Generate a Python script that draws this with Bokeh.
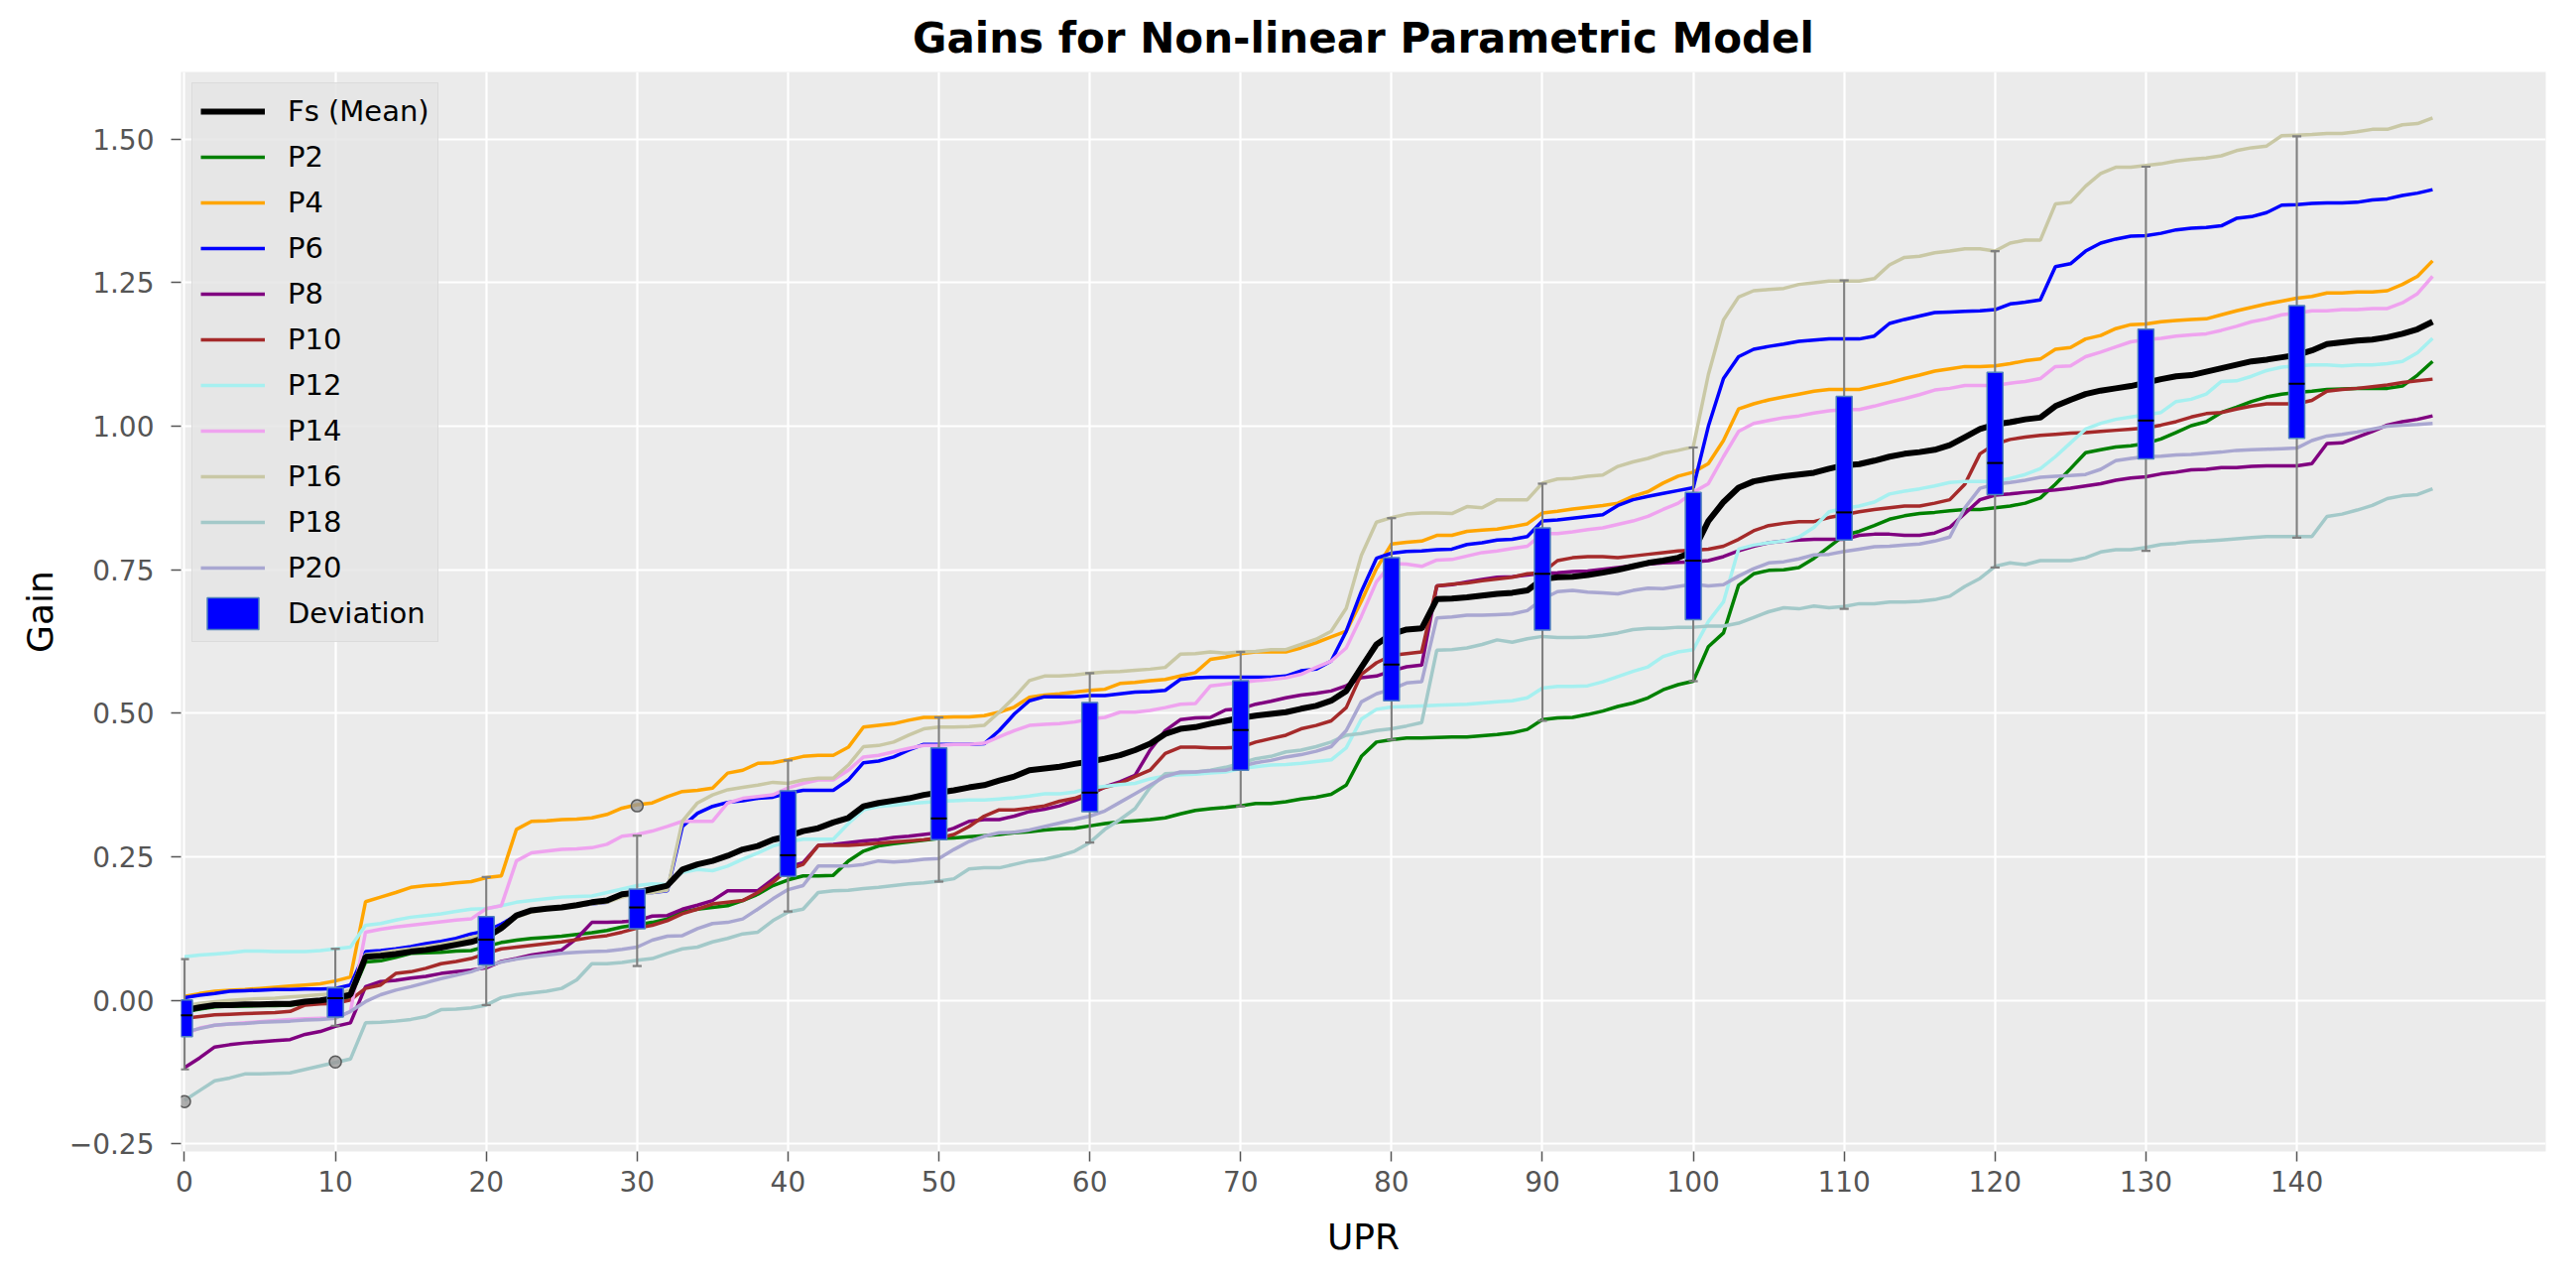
from bokeh.plotting import figure
from bokeh.models import (ColumnDataSource, Legend, LegendItem, FixedTicker, Range1d,
                          CustomJSTickFormatter)
from bokeh.embed import file_html
from bokeh.resources import INLINE

# ---------------- data ----------------
upr = list(range(150))

fs_mean = [
    -0.017, -0.012, -0.008, -0.008, -0.007, -0.007, -0.006, -0.006, -0.002, 0.000,
    0.004, 0.010, 0.076, 0.078, 0.081, 0.085, 0.088, 0.092, 0.097, 0.102,
    0.110, 0.126, 0.148, 0.157, 0.160, 0.162, 0.166, 0.171, 0.174, 0.185,
    0.188, 0.194, 0.200, 0.228, 0.237, 0.243, 0.252, 0.263, 0.269, 0.280,
    0.286, 0.295, 0.300, 0.310, 0.318, 0.338, 0.344, 0.348, 0.352, 0.358,
    0.362, 0.366, 0.371, 0.375, 0.383, 0.390, 0.401, 0.404, 0.407, 0.412,
    0.416, 0.421, 0.427, 0.436, 0.447, 0.464, 0.473, 0.476, 0.482, 0.487,
    0.492, 0.496, 0.499, 0.502, 0.508, 0.513, 0.522, 0.539, 0.580, 0.620,
    0.638, 0.646, 0.648, 0.699, 0.700, 0.702, 0.705, 0.708, 0.710, 0.714,
    0.734, 0.737, 0.738, 0.741, 0.745, 0.750, 0.756, 0.762, 0.766, 0.771,
    0.782, 0.835, 0.868, 0.893, 0.904, 0.909, 0.913, 0.916, 0.919, 0.926,
    0.932, 0.934, 0.940, 0.947, 0.952, 0.955, 0.959, 0.967, 0.981, 0.995,
    1.003, 1.007, 1.012, 1.015, 1.035, 1.046, 1.056, 1.062, 1.066, 1.070,
    1.076, 1.082, 1.087, 1.089, 1.095, 1.101, 1.107, 1.113, 1.116, 1.120,
    1.124, 1.132, 1.143, 1.146, 1.149, 1.151, 1.155, 1.161, 1.169, 1.182,
]

p2 = [
    -0.020, -0.015, -0.011, -0.010, -0.010, -0.009, -0.009, -0.008, -0.005, -0.003,
    0.001, 0.006, 0.067, 0.069, 0.075, 0.082, 0.083, 0.084, 0.086, 0.087,
    0.094, 0.101, 0.105, 0.108, 0.110, 0.112, 0.115, 0.118, 0.122, 0.128,
    0.132, 0.136, 0.142, 0.154, 0.159, 0.162, 0.165, 0.174, 0.185, 0.200,
    0.210, 0.217, 0.217, 0.218, 0.243, 0.260, 0.269, 0.273, 0.276, 0.279,
    0.282, 0.283, 0.285, 0.287, 0.289, 0.292, 0.294, 0.297, 0.299, 0.300,
    0.304, 0.308, 0.311, 0.313, 0.315, 0.318, 0.325, 0.331, 0.334, 0.336,
    0.339, 0.343, 0.343, 0.346, 0.351, 0.354, 0.359, 0.375, 0.425, 0.450,
    0.454, 0.457, 0.457, 0.458, 0.459, 0.459, 0.461, 0.463, 0.466, 0.472,
    0.489, 0.492, 0.493, 0.498, 0.504, 0.512, 0.518, 0.527, 0.541, 0.550,
    0.556, 0.616, 0.640, 0.723, 0.743, 0.749, 0.750, 0.754, 0.770, 0.790,
    0.810, 0.817, 0.827, 0.838, 0.844, 0.848, 0.850, 0.853, 0.855, 0.855,
    0.858, 0.861, 0.866, 0.875, 0.899, 0.926, 0.954, 0.959, 0.964, 0.966,
    0.970, 0.978, 0.989, 1.001, 1.008, 1.024, 1.033, 1.043, 1.051, 1.056,
    1.059, 1.061, 1.064, 1.065, 1.066, 1.066, 1.066, 1.070, 1.089, 1.113,
]

p4 = [
    0.007, 0.012, 0.016, 0.018, 0.019, 0.021, 0.023, 0.025, 0.027, 0.029,
    0.034, 0.041, 0.172, 0.180, 0.188, 0.197, 0.200, 0.202, 0.205, 0.207,
    0.214, 0.217, 0.298, 0.312, 0.313, 0.315, 0.316, 0.318, 0.324, 0.335,
    0.341, 0.344, 0.355, 0.364, 0.366, 0.370, 0.396, 0.401, 0.413, 0.414,
    0.419, 0.425, 0.427, 0.427, 0.441, 0.476, 0.479, 0.482, 0.488, 0.493,
    0.493, 0.494, 0.494, 0.496, 0.502, 0.511, 0.528, 0.532, 0.534, 0.537,
    0.540, 0.542, 0.552, 0.554, 0.557, 0.559, 0.565, 0.571, 0.594, 0.598,
    0.604, 0.607, 0.607, 0.607, 0.614, 0.623, 0.633, 0.643, 0.695, 0.752,
    0.795, 0.798, 0.800, 0.810, 0.810, 0.817, 0.819, 0.821, 0.825, 0.830,
    0.849, 0.852, 0.856, 0.859, 0.862, 0.866, 0.878, 0.886, 0.901, 0.913,
    0.920, 0.935, 0.975, 1.030, 1.039, 1.046, 1.051, 1.056, 1.061, 1.064,
    1.064, 1.064, 1.070, 1.076, 1.083, 1.089, 1.096, 1.100, 1.104, 1.104,
    1.105, 1.109, 1.114, 1.117, 1.134, 1.137, 1.152, 1.158, 1.170, 1.177,
    1.178, 1.182, 1.184, 1.186, 1.187, 1.194, 1.201, 1.207, 1.213, 1.218,
    1.223, 1.226, 1.232, 1.232, 1.234, 1.234, 1.236, 1.247, 1.261, 1.288,
]

p6 = [
    0.005, 0.009, 0.012, 0.016, 0.017, 0.018, 0.019, 0.019, 0.020, 0.020,
    0.021, 0.027, 0.085, 0.087, 0.090, 0.094, 0.099, 0.103, 0.108, 0.116,
    0.121, 0.133, 0.148, 0.157, 0.160, 0.162, 0.165, 0.168, 0.171, 0.185,
    0.188, 0.188, 0.191, 0.303, 0.326, 0.338, 0.345, 0.348, 0.352, 0.354,
    0.361, 0.366, 0.366, 0.366, 0.384, 0.414, 0.417, 0.424, 0.436, 0.446,
    0.446, 0.446, 0.446, 0.447, 0.470, 0.499, 0.522, 0.529, 0.529, 0.529,
    0.531, 0.531, 0.534, 0.537, 0.538, 0.540, 0.559, 0.562, 0.563, 0.563,
    0.563, 0.563, 0.563, 0.565, 0.574, 0.577, 0.591, 0.643, 0.712, 0.770,
    0.779, 0.782, 0.783, 0.785, 0.786, 0.794, 0.797, 0.802, 0.803, 0.808,
    0.835, 0.837, 0.840, 0.843, 0.846, 0.862, 0.872, 0.878, 0.883, 0.888,
    0.893, 1.000, 1.083, 1.121, 1.134, 1.139, 1.143, 1.148, 1.150, 1.152,
    1.152, 1.152, 1.157, 1.179, 1.186, 1.192, 1.198, 1.199, 1.200, 1.201,
    1.203, 1.213, 1.216, 1.220, 1.278, 1.283, 1.305, 1.319, 1.326, 1.331,
    1.332, 1.336, 1.342, 1.345, 1.346, 1.349, 1.362, 1.365, 1.372, 1.385,
    1.386, 1.388, 1.389, 1.389, 1.390, 1.394, 1.396, 1.402, 1.406, 1.412,
]

p8 = [
    -0.117, -0.100, -0.081, -0.077, -0.074, -0.072, -0.070, -0.068, -0.059, -0.054,
    -0.045, -0.039, 0.024, 0.033, 0.035, 0.039, 0.042, 0.047, 0.050, 0.053,
    0.057, 0.068, 0.073, 0.079, 0.083, 0.088, 0.108, 0.136, 0.136, 0.137,
    0.139, 0.147, 0.148, 0.159, 0.166, 0.174, 0.191, 0.191, 0.191, 0.211,
    0.232, 0.240, 0.270, 0.272, 0.275, 0.278, 0.280, 0.284, 0.286, 0.289,
    0.292, 0.300, 0.312, 0.315, 0.315, 0.321, 0.329, 0.333, 0.339, 0.348,
    0.358, 0.372, 0.381, 0.392, 0.436, 0.470, 0.489, 0.492, 0.493, 0.506,
    0.508, 0.516, 0.521, 0.527, 0.532, 0.535, 0.539, 0.548, 0.562, 0.565,
    0.574, 0.581, 0.584, 0.722, 0.724, 0.729, 0.733, 0.737, 0.738, 0.741,
    0.744, 0.745, 0.747, 0.748, 0.751, 0.754, 0.757, 0.760, 0.762, 0.763,
    0.764, 0.766, 0.773, 0.783, 0.791, 0.797, 0.800, 0.802, 0.803, 0.803,
    0.803, 0.810, 0.812, 0.812, 0.810, 0.810, 0.814, 0.824, 0.848, 0.872,
    0.880, 0.882, 0.885, 0.887, 0.889, 0.892, 0.896, 0.900, 0.906, 0.910,
    0.912, 0.917, 0.920, 0.924, 0.925, 0.928, 0.928, 0.930, 0.931, 0.931,
    0.931, 0.935, 0.970, 0.971, 0.981, 0.991, 1.002, 1.008, 1.012, 1.018,
]

p10 = [
    -0.031, -0.028, -0.025, -0.024, -0.023, -0.022, -0.021, -0.019, -0.008, -0.006,
    -0.005, 0.001, 0.021, 0.027, 0.047, 0.050, 0.056, 0.064, 0.068, 0.073,
    0.082, 0.090, 0.093, 0.096, 0.099, 0.102, 0.106, 0.110, 0.113, 0.119,
    0.126, 0.131, 0.139, 0.151, 0.159, 0.168, 0.171, 0.174, 0.188, 0.206,
    0.228, 0.237, 0.270, 0.270, 0.270, 0.272, 0.274, 0.276, 0.278, 0.280,
    0.283, 0.289, 0.303, 0.321, 0.332, 0.332, 0.335, 0.339, 0.347, 0.352,
    0.362, 0.371, 0.378, 0.390, 0.401, 0.430, 0.441, 0.441, 0.440, 0.440,
    0.441, 0.450, 0.456, 0.462, 0.473, 0.479, 0.487, 0.510, 0.568, 0.588,
    0.601, 0.604, 0.607, 0.722, 0.725, 0.727, 0.731, 0.734, 0.737, 0.743,
    0.745, 0.766, 0.771, 0.773, 0.773, 0.771, 0.774, 0.777, 0.780, 0.783,
    0.784, 0.786, 0.791, 0.803, 0.818, 0.827, 0.831, 0.834, 0.834, 0.841,
    0.846, 0.851, 0.855, 0.858, 0.861, 0.861, 0.866, 0.872, 0.899, 0.952,
    0.969, 0.977, 0.981, 0.984, 0.986, 0.988, 0.989, 0.991, 0.993, 0.995,
    0.997, 1.002, 1.008, 1.016, 1.022, 1.024, 1.030, 1.035, 1.039, 1.039,
    1.039, 1.045, 1.061, 1.064, 1.066, 1.069, 1.072, 1.076, 1.079, 1.082,
]

p12 = [
    0.076, 0.079, 0.081, 0.083, 0.086, 0.086, 0.085, 0.085, 0.085, 0.087,
    0.090, 0.093, 0.131, 0.134, 0.140, 0.145, 0.148, 0.151, 0.155, 0.159,
    0.160, 0.165, 0.171, 0.174, 0.177, 0.180, 0.181, 0.182, 0.188, 0.194,
    0.200, 0.203, 0.202, 0.223, 0.228, 0.226, 0.234, 0.246, 0.257, 0.269,
    0.276, 0.281, 0.281, 0.281, 0.308, 0.332, 0.338, 0.340, 0.343, 0.345,
    0.347, 0.348, 0.349, 0.349, 0.351, 0.353, 0.356, 0.360, 0.360, 0.363,
    0.370, 0.373, 0.376, 0.378, 0.386, 0.391, 0.393, 0.394, 0.396, 0.398,
    0.404, 0.407, 0.410, 0.411, 0.413, 0.416, 0.419, 0.440, 0.490, 0.507,
    0.511, 0.512, 0.513, 0.514, 0.515, 0.516, 0.518, 0.520, 0.522, 0.527,
    0.544, 0.547, 0.547, 0.548, 0.555, 0.564, 0.573, 0.581, 0.599, 0.607,
    0.611, 0.660, 0.694, 0.786, 0.793, 0.797, 0.800, 0.807, 0.824, 0.851,
    0.857, 0.861, 0.868, 0.882, 0.887, 0.891, 0.896, 0.902, 0.904, 0.904,
    0.904, 0.909, 0.916, 0.926, 0.947, 0.971, 0.995, 1.005, 1.012, 1.016,
    1.020, 1.024, 1.043, 1.047, 1.056, 1.078, 1.079, 1.087, 1.097, 1.103,
    1.105, 1.107, 1.107, 1.105, 1.107, 1.107, 1.109, 1.113, 1.128, 1.153,
]

p14 = [
    -0.059, -0.048, -0.043, -0.041, -0.039, -0.037, -0.035, -0.033, -0.032, -0.031,
    -0.031, -0.019, 0.119, 0.124, 0.128, 0.131, 0.134, 0.137, 0.140, 0.142,
    0.160, 0.165, 0.243, 0.257, 0.260, 0.263, 0.264, 0.266, 0.272, 0.286,
    0.289, 0.295, 0.303, 0.312, 0.312, 0.312, 0.344, 0.352, 0.355, 0.358,
    0.370, 0.378, 0.384, 0.384, 0.401, 0.424, 0.427, 0.433, 0.439, 0.444,
    0.444, 0.446, 0.446, 0.448, 0.459, 0.470, 0.479, 0.481, 0.482, 0.485,
    0.490, 0.493, 0.502, 0.502, 0.505, 0.510, 0.516, 0.517, 0.548, 0.551,
    0.554, 0.557, 0.559, 0.562, 0.568, 0.580, 0.591, 0.614, 0.669, 0.729,
    0.761, 0.760, 0.756, 0.767, 0.768, 0.774, 0.780, 0.783, 0.787, 0.791,
    0.813, 0.813, 0.816, 0.820, 0.823, 0.829, 0.835, 0.843, 0.855, 0.866,
    0.885, 0.900, 0.947, 0.991, 1.005, 1.010, 1.015, 1.018, 1.023, 1.027,
    1.029, 1.029, 1.035, 1.042, 1.048, 1.055, 1.063, 1.066, 1.071, 1.071,
    1.071, 1.075, 1.078, 1.083, 1.104, 1.105, 1.121, 1.129, 1.138, 1.147,
    1.151, 1.153, 1.157, 1.159, 1.161, 1.167, 1.174, 1.182, 1.187, 1.194,
    1.197, 1.201, 1.201, 1.203, 1.203, 1.205, 1.205, 1.215, 1.231, 1.261,
]

p16 = [
    -0.010, -0.005, -0.002, 0.000, 0.002, 0.003, 0.004, 0.006, 0.008, 0.010,
    0.012, 0.018, 0.080, 0.083, 0.087, 0.090, 0.094, 0.098, 0.103, 0.110,
    0.116, 0.128, 0.145, 0.154, 0.158, 0.161, 0.164, 0.168, 0.171, 0.180,
    0.186, 0.188, 0.192, 0.312, 0.344, 0.358, 0.367, 0.371, 0.375, 0.380,
    0.378, 0.384, 0.387, 0.387, 0.410, 0.442, 0.444, 0.450, 0.462, 0.473,
    0.476, 0.476, 0.477, 0.479, 0.502, 0.528, 0.557, 0.565, 0.565, 0.567,
    0.570, 0.572, 0.573, 0.575, 0.577, 0.580, 0.603, 0.604, 0.607, 0.605,
    0.607, 0.608, 0.611, 0.611, 0.620, 0.629, 0.643, 0.683, 0.775, 0.833,
    0.841, 0.847, 0.849, 0.849, 0.848, 0.860, 0.858, 0.872, 0.872, 0.872,
    0.901, 0.908, 0.909, 0.913, 0.915, 0.930, 0.938, 0.944, 0.953, 0.958,
    0.964, 1.090, 1.185, 1.225, 1.236, 1.238, 1.240, 1.247, 1.250, 1.253,
    1.253, 1.253, 1.257, 1.281, 1.294, 1.296, 1.302, 1.305, 1.309, 1.309,
    1.305, 1.319, 1.324, 1.324, 1.387, 1.390, 1.418, 1.440, 1.451, 1.451,
    1.454, 1.457, 1.462, 1.465, 1.467, 1.471, 1.480, 1.485, 1.488, 1.506,
    1.507, 1.508, 1.510, 1.510, 1.513, 1.517, 1.517, 1.525, 1.527, 1.537,
]

p18 = [
    -0.174, -0.157, -0.140, -0.135, -0.128, -0.128, -0.127, -0.126, -0.120, -0.114,
    -0.108, -0.102, -0.039, -0.038, -0.036, -0.033, -0.028, -0.016, -0.015, -0.013,
    -0.008, 0.005, 0.010, 0.013, 0.016, 0.021, 0.036, 0.064, 0.064, 0.066,
    0.070, 0.073, 0.082, 0.090, 0.093, 0.102, 0.108, 0.116, 0.119, 0.139,
    0.154, 0.159, 0.188, 0.191, 0.192, 0.195, 0.197, 0.200, 0.203, 0.205,
    0.208, 0.212, 0.229, 0.231, 0.231, 0.237, 0.243, 0.246, 0.252, 0.260,
    0.275, 0.298, 0.315, 0.334, 0.371, 0.395, 0.396, 0.398, 0.401, 0.406,
    0.413, 0.421, 0.425, 0.433, 0.436, 0.442, 0.450, 0.462, 0.465, 0.470,
    0.473, 0.478, 0.484, 0.610, 0.611, 0.614, 0.620, 0.628, 0.624, 0.630,
    0.634, 0.632, 0.632, 0.633, 0.636, 0.640, 0.646, 0.648, 0.648, 0.650,
    0.650, 0.652, 0.652, 0.657, 0.667, 0.677, 0.684, 0.682, 0.687, 0.684,
    0.686, 0.691, 0.691, 0.694, 0.694, 0.695, 0.698, 0.704, 0.721, 0.735,
    0.756, 0.762, 0.759, 0.766, 0.766, 0.766, 0.771, 0.781, 0.785, 0.785,
    0.789, 0.794, 0.796, 0.799, 0.800, 0.802, 0.804, 0.806, 0.808, 0.808,
    0.808, 0.808, 0.843, 0.847, 0.854, 0.862, 0.874, 0.879, 0.881, 0.891,
]

p20 = [
    -0.055, -0.049, -0.043, -0.041, -0.040, -0.038, -0.037, -0.036, -0.034, -0.033,
    -0.031, -0.019, -0.002, 0.010, 0.018, 0.024, 0.031, 0.038, 0.044, 0.050,
    0.060, 0.067, 0.072, 0.076, 0.079, 0.082, 0.084, 0.085, 0.086, 0.089,
    0.093, 0.105, 0.112, 0.113, 0.125, 0.134, 0.136, 0.142, 0.159, 0.177,
    0.193, 0.200, 0.234, 0.234, 0.234, 0.237, 0.243, 0.241, 0.243, 0.246,
    0.247, 0.263, 0.277, 0.286, 0.292, 0.293, 0.297, 0.303, 0.309, 0.315,
    0.321, 0.330, 0.345, 0.360, 0.375, 0.390, 0.398, 0.398, 0.400, 0.401,
    0.408, 0.414, 0.418, 0.424, 0.428, 0.434, 0.442, 0.470, 0.520, 0.534,
    0.542, 0.553, 0.555, 0.666, 0.668, 0.671, 0.671, 0.672, 0.673, 0.679,
    0.699, 0.712, 0.714, 0.711, 0.710, 0.708, 0.714, 0.718, 0.717, 0.721,
    0.725, 0.722, 0.724, 0.739, 0.752, 0.762, 0.764, 0.769, 0.776, 0.777,
    0.782, 0.786, 0.790, 0.791, 0.793, 0.795, 0.800, 0.807, 0.858, 0.892,
    0.899, 0.902, 0.906, 0.911, 0.913, 0.914, 0.916, 0.925, 0.940, 0.944,
    0.947, 0.948, 0.950, 0.951, 0.953, 0.955, 0.958, 0.959, 0.960, 0.961,
    0.962, 0.975, 0.983, 0.986, 0.990, 0.995, 1.000, 1.002, 1.003, 1.005,
]

# box-plot ("Deviation") statistics at every 10th UPR value
box_pos = [0, 10, 20, 30, 40, 50, 60, 70, 80, 90, 100, 110, 120, 130, 140]
box_q1 = [-0.063, -0.029, 0.062, 0.125, 0.216, 0.280, 0.329, 0.401, 0.522, 0.645,
          0.663, 0.802, 0.881, 0.943, 0.979]
box_median = [-0.026, 0.004, 0.106, 0.162, 0.253, 0.317, 0.362, 0.471, 0.585, 0.743,
              0.766, 0.850, 0.936, 1.010, 1.074]
box_q3 = [0.001, 0.022, 0.146, 0.194, 0.365, 0.440, 0.519, 0.557, 0.771, 0.823,
          0.885, 1.052, 1.094, 1.169, 1.210]
whisker_low = [-0.120, -0.044, -0.008, 0.060, 0.155, 0.207, 0.275, 0.338, 0.454, 0.487,
               0.556, 0.682, 0.754, 0.783, 0.806]
whisker_high = [0.072, 0.090, 0.215, 0.287, 0.418, 0.493, 0.570, 0.607, 0.840, 0.900,
                0.963, 1.254, 1.305, 1.452, 1.505]
outlier_x = [0, 10, 30]
outlier_y = [-0.176, -0.107, 0.339]

x_ticks = [0, 10, 20, 30, 40, 50, 60, 70, 80, 90, 100, 110, 120, 130, 140]
y_ticks = [-0.25, 0.0, 0.25, 0.5, 0.75, 1.0, 1.25, 1.5]

series_names = ["P2", "P4", "P6", "P8", "P10", "P12", "P14", "P16", "P18", "P20"]
series_values = [p2, p4, p6, p8, p10, p12, p14, p16, p18, p20]
series_colors = ["#008000", "#FFA500", "#0000FF", "#800080", "#A52A2A",
                 "#A6F0F0", "#EFA3EF", "#C9C8A5", "#A3C9C9", "#A9A7D1"]

for s in series_values + [fs_mean]:
    assert len(s) == len(upr)

# ---------------- figure ----------------
FONT = "DejaVu Sans"
p = figure(width=2583, height=1282,
           x_range=Range1d(-0.23, 156.5), y_range=Range1d(-0.263, 1.617),
           output_backend="svg", toolbar_location=None,
           min_border_left=182, min_border_right=17,
           min_border_top=72, min_border_bottom=122,
           background_fill_color="#EBEBEB", border_fill_color="white")
p.outline_line_color = None

p.title.text = "Gains for Non-linear Parametric Model"
p.title.text_font = FONT
p.title.text_font_size = "42px"
p.title.text_font_style = "bold"
p.title.text_color = "black"
p.title.align = "center"
p.title.standoff = 20

for ax in (p.xaxis[0], p.yaxis[0]):
    ax.axis_line_color = None
    ax.major_tick_line_color = "#555555"
    ax.major_tick_line_width = 1.5
    ax.major_tick_out = 10
    ax.major_tick_in = 0
    ax.minor_tick_line_color = None
    ax.major_label_text_font = FONT
    ax.major_label_text_font_size = "28px"
    ax.major_label_text_color = "#555555"
    ax.axis_label_text_font = FONT
    ax.axis_label_text_font_size = "36px"
    ax.axis_label_text_font_style = "normal"
    ax.axis_label_text_color = "black"

p.xaxis[0].ticker = FixedTicker(ticks=x_ticks)
p.xaxis[0].axis_label = "UPR"
p.xaxis[0].major_label_standoff = 9
p.xaxis[0].axis_label_standoff = 22

p.yaxis[0].ticker = FixedTicker(ticks=y_ticks)
p.yaxis[0].formatter = CustomJSTickFormatter(
    code="return (tick < 0 ? '\u2212' : '') + Math.abs(tick).toFixed(2);")
p.yaxis[0].axis_label = "Gain"
p.yaxis[0].major_label_standoff = 17
p.yaxis[0].axis_label_standoff = 6

p.xgrid.ticker = FixedTicker(ticks=x_ticks)
p.ygrid.ticker = FixedTicker(ticks=y_ticks)
for g in (p.xgrid[0], p.ygrid[0]):
    g.grid_line_color = "white"
    g.grid_line_width = 2.2

# ---------------- lines ----------------
legend_items = []
fs_src = ColumnDataSource(dict(x=upr, y=fs_mean))
r_fs = p.line("x", "y", source=fs_src, line_color="black", line_width=6)
legend_items.append(LegendItem(label="Fs (Mean)", renderers=[r_fs]))

for name, vals, col in zip(series_names, series_values, series_colors):
    src = ColumnDataSource(dict(x=upr, y=vals))
    r = p.line("x", "y", source=src, line_color=col, line_width=3.5)
    legend_items.append(LegendItem(label=name, renderers=[r]))

# draw the mean line over the coloured ones, as in the reference
p.renderers.remove(r_fs)
p.renderers.append(r_fs)

# ---------------- box plots ----------------
cap_half = 0.3
box_half = 0.525
bsrc = ColumnDataSource(dict(
    x=box_pos, q1=box_q1, med=box_median, q3=box_q3, lo=whisker_low, hi=whisker_high,
    cl=[v - cap_half for v in box_pos], cr=[v + cap_half for v in box_pos],
    bl=[v - box_half for v in box_pos], br=[v + box_half for v in box_pos]))

p.segment(x0="x", x1="x", y0="q3", y1="hi", source=bsrc, line_color="#808080", line_width=2.2)
p.segment(x0="x", x1="x", y0="lo", y1="q1", source=bsrc, line_color="#808080", line_width=2.2)
p.segment(x0="cl", x1="cr", y0="hi", y1="hi", source=bsrc, line_color="#808080", line_width=2.2)
p.segment(x0="cl", x1="cr", y0="lo", y1="lo", source=bsrc, line_color="#808080", line_width=2.2)
r_box = p.vbar(x="x", width=2 * box_half, top="q3", bottom="q1", source=bsrc,
               fill_color="#0000FF", line_color="#4F81BD", line_width=1.5)
p.segment(x0="bl", x1="br", y0="med", y1="med", source=bsrc, line_color="black", line_width=2)
p.scatter(x=outlier_x, y=outlier_y, size=12, marker="circle",
          fill_color="#9a9a9a", fill_alpha=0.8, line_color="#5a5a5a", line_width=1.5)

legend_items.append(LegendItem(label="Deviation", renderers=[r_box]))

legend = Legend(items=legend_items, location="top_left")
legend.margin = 11
legend.padding = 8
legend.spacing = 6
legend.glyph_width = 65
legend.glyph_height = 40
legend.label_height = 40
legend.label_standoff = 23
legend.label_text_font = FONT
legend.label_text_font_size = "29px"
legend.label_text_color = "black"
legend.background_fill_color = "#E5E5E5"
legend.background_fill_alpha = 0.85
legend.border_line_color = "#CFCFCF"
legend.border_line_width = 1.5
p.add_layout(legend)

open("out.html", "w").write(file_html(p, INLINE))
